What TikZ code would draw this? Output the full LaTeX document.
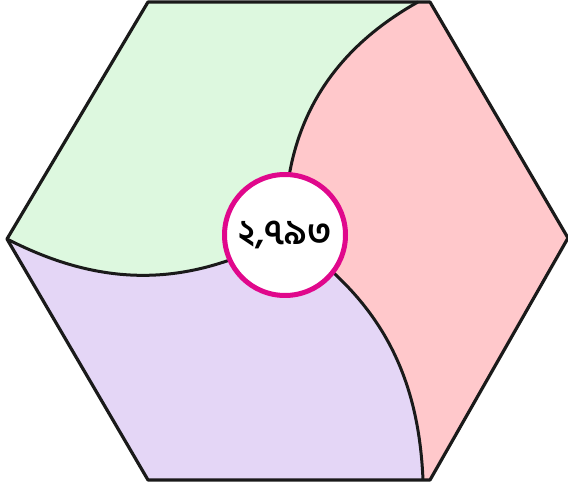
\documentclass[tikz,border=0pt]{standalone}
\usepackage{fontspec}
\newfontfamily\bnfont[Script=Bengali]{Hind Siliguri}
\usetikzlibrary{positioning}

\definecolor{leafgreen}{HTML}{DDF8DF}
\definecolor{leafpink}{HTML}{FFC8CB}
\definecolor{leafpurple}{HTML}{E4D6F6}
\definecolor{ringmagenta}{HTML}{E0088C}
\definecolor{inkline}{HTML}{1A1A1A}

\begin{document}
\begin{tikzpicture}[
    x=1pt, y=1pt,
    outline/.style={draw=inkline, line width=3.2pt, line join=round},
    curve/.style={draw=inkline, line width=3pt},
    badge/.style={circle, draw=ringmagenta, line width=5pt, fill=white, minimum size=121pt, inner sep=0pt, font=\bnfont\bfseries\fontsize{35}{40}\selectfont},
]
\useasboundingbox (0,0) rectangle (568,485);

% hexagon corners
\coordinate (tl) at (148,483);
\coordinate (tr) at (430,483);
\coordinate (rt) at (568,247);
\coordinate (br) at (430,5);
\coordinate (bl) at (148,5);
\coordinate (lf) at (7,246);
\coordinate (mid) at (285,250);
\coordinate (topend) at (418,483);
\coordinate (botend) at (423,5);

% pink base, then the two other leaves
\fill[leafpink] (tl) -- (tr) -- (rt) -- (br) -- (bl) -- (lf) -- cycle;
\fill[leafgreen] (lf) -- (tl) -- (topend) to[bend right=31] (mid) to[bend left=28] (lf) -- cycle;
\fill[leafpurple] (mid) to[bend left=28] (lf) -- (bl) -- (botend) to[bend right=27] (mid) -- cycle;

% leaf borders
\draw[curve] (mid) to[bend left=31] (topend);
\draw[curve] (mid) to[bend left=28] (lf);
\draw[curve] (mid) to[bend left=27] (botend);

\draw[outline] (tl) -- (tr) -- (rt) -- (br) -- (bl) -- (lf) -- cycle;

% centre count
\node[badge] (count) at (mid) {২,৭৯৩};

\end{tikzpicture}
\end{document}
